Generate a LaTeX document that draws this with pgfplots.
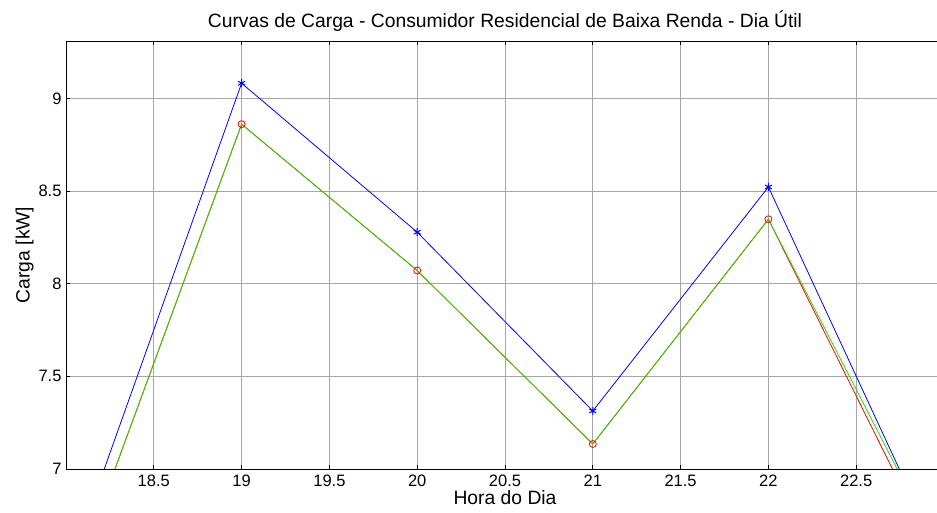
\documentclass[border=0pt]{standalone}
\usepackage{fontspec}
\setmainfont{Liberation Sans}
\usepackage{pgfplots}
\pgfplotsset{compat=1.18}
\definecolor{mblue}{rgb}{0,0,1}
\definecolor{mred}{rgb}{1,0,0}
\definecolor{mgreen}{HTML}{20E000}
\newcommand{\fs}{\fontsize{16.5}{19}\selectfont}
\newcommand{\fl}{\fontsize{19.3}{22}\selectfont}
\begin{document}
\begin{tikzpicture}
  \useasboundingbox (-66pt,-44pt) rectangle (871pt,469pt);
  \begin{axis}[
    at={(0,0)}, anchor=south west,
    scale only axis,
    width=878pt, height=428pt,
    xmin=18, xmax=23, ymin=7, ymax=9.31,
    xtick={18.5,19,19.5,20,20.5,21,21.5,22,22.5},
    ytick={7,7.5,8,8.5,9},
    xticklabels={18.5,19,19.5,20,20.5,21,21.5,22,22.5},
    yticklabels={7,7.5,8,8.5,9},
    tick align=inside, major tick length=4pt,
    tick style={black, line width=0.7pt},
    axis line style={black, line width=0.9pt},
    grid=major, grid style={black!35, line width=0.7pt},
    ticklabel style={font=\fs},
    /pgf/number format/assume math mode=true,
    xticklabel style={yshift=-2pt},
    yticklabel style={xshift=-1pt},
    title={Curvas de Carga - Consumidor Residencial de Baixa Renda - Dia Útil},
    title style={font=\fl, yshift=0pt},
    xlabel={Hora do Dia}, xlabel style={font=\fl, yshift=3pt},
    ylabel={Carga [kW]}, ylabel style={font=\fl, yshift=-2pt},
    clip=true,
  ]
    \addplot[color=mblue, line width=0.8pt, mark=asterisk, mark size=4pt,
      mark options={line width=1pt}]
      coordinates {(18,6.42) (19,9.082) (20,8.278) (21,7.313) (22,8.522) (23,6.48)};
    \addplot[color=mred, line width=0.8pt, mark=o, mark size=3.5pt,
      mark options={line width=0.8pt}]
      coordinates {(18,6.28) (19,8.861) (20,8.071) (21,7.135) (22,8.348) (23,6.44)};
    \addplot[color=mgreen, line width=0.8pt]
      coordinates {(18,6.28) (19,8.861) (20,8.071) (21,7.135) (22,8.348) (23,6.51)};
  \end{axis}
\end{tikzpicture}
\end{document}
